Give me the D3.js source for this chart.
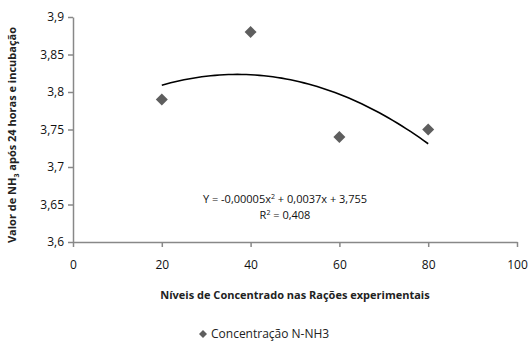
<!DOCTYPE html>
<html>
<head>
<meta charset="utf-8">
<script src="https://cdn.jsdelivr.net/npm/d3@7"></script>
<style>
  body { margin: 0; background: #fff; }
  svg text { font-family: "Open Sans", "Liberation Sans", sans-serif; }
</style>
</head>
<body>
<div id="chart"></div>
<script>
// data
var niveis = [20, 40, 60, 80];
var concentracao = [3.79, 3.88, 3.74, 3.75];
var xTicks = [0, 20, 40, 60, 80, 100];
var yTicks = [3.6, 3.65, 3.7, 3.75, 3.8, 3.85, 3.9];
// trend line coefficients (a*x^2 + b*x + c), as printed on the chart
var trendCoef = [-0.00005, 0.0037, 3.755];

var width = 531, height = 341;
var margin = {top: 17, right: 14, bottom: 99, left: 73};

var svg = d3.select("#chart").append("svg")
  .attr("width", width)
  .attr("height", height);

var xScale = d3.scaleLinear()
  .domain([0, 100])
  .range([margin.left, width - margin.right]);

var yScale = d3.scaleLinear()
  .domain([3.6, 3.9])
  .range([height - margin.bottom, margin.top]);

var fmt = function(d) { return String(d).replace(".", ","); };

var xAxis = d3.axisBottom(xScale).tickValues(xTicks).tickSize(5).tickSizeOuter(0).tickFormat(fmt);
var yAxis = d3.axisLeft(yScale).tickValues(yTicks).tickSize(5).tickSizeOuter(0).tickFormat(fmt);

var xAxisGroup = svg.append("g")
  .attr("transform", "translate(0," + (height - margin.bottom) + ")")
  .call(xAxis);

var yAxisGroup = svg.append("g")
  .attr("transform", "translate(" + margin.left + ",0)")
  .call(yAxis);

[xAxisGroup, yAxisGroup].forEach(function(g) {
  g.select(".domain").attr("stroke", "#888").attr("stroke-width", 1.5);
  g.selectAll(".tick line").attr("stroke", "#888").attr("stroke-width", 1.5);
  g.selectAll(".tick text").attr("fill", "#111").style("font-size", "12px");
});
xAxisGroup.selectAll(".tick text").attr("dy", "1.6em");
yAxisGroup.selectAll(".tick text").attr("x", -9);

// trend line
var a = trendCoef[0], b = trendCoef[1], c = trendCoef[2];
var trendX = d3.range(niveis[0], niveis[niveis.length - 1] + 0.5, 1);
var line = d3.line()
  .x(function(d) { return xScale(d); })
  .y(function(d) { return yScale(a * d * d + b * d + c); });

svg.append("path")
  .datum(trendX)
  .attr("d", line)
  .attr("fill", "none")
  .attr("stroke", "#000")
  .attr("stroke-width", 1.6);

// markers
svg.selectAll(".pt")
  .data(niveis)
  .enter()
  .append("path")
  .attr("class", "pt")
  .attr("d", d3.symbol().type(d3.symbolSquare).size(72))
  .attr("transform", function(d, i) {
    return "translate(" + xScale(d) + "," + yScale(concentracao[i]) + ") rotate(45)";
  })
  .attr("fill", "#5e5e5e");

// equation
svg.append("text")
  .attr("x", 285).attr("y", 203)
  .attr("text-anchor", "middle")
  .style("font-size", "11px")
  .attr("fill", "#111")
  .html("Y = -0,00005x<tspan dy='-4' font-size='7px'>2</tspan><tspan dy='4'> + 0,0037x + 3,755</tspan>");

svg.append("text")
  .attr("x", 285).attr("y", 219)
  .attr("text-anchor", "middle")
  .style("font-size", "11px")
  .attr("fill", "#111")
  .html("R<tspan dy='-4' font-size='7px'>2</tspan><tspan dy='4'> = 0,408</tspan>");

// axis titles
svg.append("text")
  .attr("x", 295).attr("y", 299)
  .attr("text-anchor", "middle")
  .style("font-size", "11px")
  .style("font-weight", "bold")
  .attr("fill", "#222")
  .text("Níveis de Concentrado nas Rações experimentais");

svg.append("text")
  .attr("transform", "translate(16,135) rotate(-90)")
  .attr("text-anchor", "middle")
  .style("font-size", "11px")
  .style("font-weight", "bold")
  .attr("fill", "#222")
  .html("Valor de NH<tspan dy='3' font-size='7px'>3</tspan><tspan dy='-3'> após 24 horas e incubação</tspan>");

// legend
var legend = svg.append("g").attr("transform", "translate(203,334)");
legend.append("path")
  .attr("d", d3.symbol().type(d3.symbolSquare).size(32))
  .attr("transform", "rotate(45)")
  .attr("fill", "#5e5e5e");
legend.append("text")
  .attr("x", 8).attr("y", 4)
  .style("font-size", "12px")
  .attr("fill", "#222")
  .text("Concentração N-NH3");
</script>
</body>
</html>
